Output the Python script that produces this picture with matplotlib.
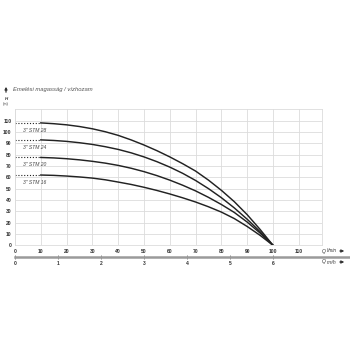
import matplotlib
matplotlib.use('Agg')
import matplotlib.pyplot as plt

# flow (l/min) and head (m)
q_lmin = [0, 10, 15, 20, 25, 30, 35, 40, 45, 50, 55, 60, 65, 70, 75, 80, 85, 90, 95, 100]
stm28 = [108, 108, 107.3, 106.3, 104.8, 102.8, 100.2, 97, 93, 88.5, 83.5, 78, 72, 65.5,
         57.5, 48.5, 38.5, 27, 14, 0]
stm24 = [93, 93, 92.5, 91.7, 90.5, 89, 87, 84.6, 81.6, 78, 73.8, 69, 63.5, 57.2,
         50, 42, 33, 23, 12, 0]
stm20 = [77.5, 77.5, 77.1, 76.4, 75.4, 74.1, 72.5, 70.5, 68, 65, 61.5, 57.5, 53, 48,
         42.3, 36, 29, 20.5, 10.8, 0]
stm16 = [62, 62, 61.7, 61.1, 60.3, 59.3, 57.8, 55.8, 53.7, 51.2, 48.4, 45.3, 41.9, 38.2,
         34, 29.3, 23.6, 16.6, 8.8, 0]
series = [('3" STM 28', stm28), ('3" STM 24', stm24), ('3" STM 20', stm20), ('3" STM 16', stm16)]

x_ticks = [0, 10, 20, 30, 40, 50, 60, 70, 80, 90, 100, 110]
y_ticks = [0, 10, 20, 30, 40, 50, 60, 70, 80, 90, 100, 110]
m3h_ticks = [0, 1, 2, 3, 4, 5, 6]

W = H = 350.0


def fx(x):
    return x / W


def fy(y):
    return 1 - y / H


plt.rcParams['font.family'] = ['Liberation Sans', 'DejaVu Sans']
fig = plt.figure(figsize=(3.5, 3.5), dpi=100)

# main chart: 0..119 l/min across x 15..322 px, 0..120 m across y 245..109 px
ax = fig.add_axes([fx(15), fy(245.3), fx(307), 136 / H])
ax.set_xlim(0, 119)
ax.set_ylim(0, 120)
ax.set_xticks(x_ticks)
ax.set_yticks(y_ticks)
ax.grid(True, color='#dcdcdc', linewidth=0.6)
for s in ax.spines.values():
    s.set_color('#dcdcdc')
    s.set_linewidth(0.6)
ax.tick_params(length=0, labelsize=3.6, colors='#333333', pad=2.5)
for lab in ax.get_xticklabels() + ax.get_yticklabels():
    lab.set_fontweight('bold')

for name, h in series:
    ax.plot(q_lmin[:2], h[:2], color='#222222', linestyle=(0, (1, 1.6)), linewidth=0.8)
    ax.plot(q_lmin[1:], h[1:], color='#222222', linewidth=1.05, solid_joinstyle='round')
    ax.text(7.5, h[0] - 6.3, name, fontsize=3.6, style='italic', color='#444444',
            ha='center', va='center')

# second flow scale in m3/h: 1 m3/h = 16.67 l/min
ax2 = fig.add_axes([fx(15), fy(257), fx(335), 0.001])
ax2.set_xlim(0, 335 / 43.0)
ax2.set_ylim(0, 1)
ax2.set_yticks([])
ax2.set_xticks(m3h_ticks)
for k in ['top', 'left', 'right']:
    ax2.spines[k].set_visible(False)
ax2.spines['bottom'].set_color('#9a9a9a')
ax2.spines['bottom'].set_linewidth(1.8)
ax2.tick_params(axis='x', direction='inout', length=3, width=0.5, color='#555555',
                labelsize=3.6, labelcolor='#333333', pad=1.5)
for lab in ax2.get_xticklabels():
    lab.set_fontweight('bold')

# axis captions
fig.text(fx(13), fy(90), 'Emelési magasság / vízhozam', fontsize=4.2, style='italic',
         color='#555555', va='center')
fig.text(fx(6), fy(99), 'H', fontsize=3.2, style='italic', color='#333333',
         ha='center', va='center', fontweight='bold')
fig.text(fx(6), fy(104), '(m)', fontsize=2.8, color='#333333', ha='center', va='center')
fig.add_artist(matplotlib.patches.FancyArrowPatch(
    (fx(6), fy(95)), (fx(6), fy(84)), transform=fig.transFigure,
    arrowstyle='-|>', mutation_scale=3.5, color='#333333', linewidth=0.9))

for ypos, unit in [(251, 'l/min'), (262, 'm³/h')]:
    fig.text(fx(322), fy(ypos), 'Q', fontsize=3.6, style='italic', color='#333333', va='center')
    fig.text(fx(327), fy(ypos), unit, fontsize=3.4, style='italic', color='#333333', va='center')
    fig.add_artist(matplotlib.patches.FancyArrowPatch(
        (fx(337), fy(ypos)), (fx(347), fy(ypos)), transform=fig.transFigure,
        arrowstyle='-|>', mutation_scale=4, color='#333333', linewidth=0.8))

plt.savefig('out.png', dpi=100)
